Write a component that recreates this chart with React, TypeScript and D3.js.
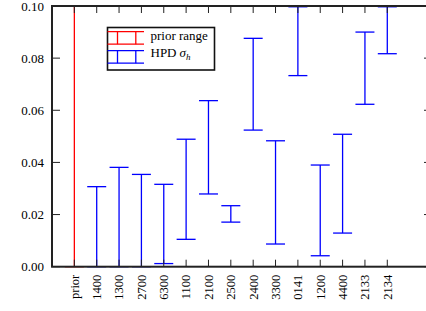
import React, { useRef, useEffect } from 'react'
import * as d3 from 'd3'

const categories = ['prior', '1400', '1300', '2700', '6300', '1100', '2100', '2500', '2400', '3300', '0141', '1200', '4400', '2133', '2134']
const lowerValues = [0, 0, 0, 0, 0.0012, 0.0105, 0.0279, 0.0171, 0.0524, 0.0087, 0.0733, 0.0042, 0.0129, 0.0623, 0.0817]
const upperValues = [0.1, 0.0307, 0.0381, 0.0354, 0.0316, 0.0489, 0.0637, 0.0234, 0.0876, 0.0483, 0.0997, 0.039, 0.0508, 0.09, 0.0997]
const yTicks = [0, 0.02, 0.04, 0.06, 0.08, 0.1]
const legendLabels = ['prior range', 'HPD']

const W = 426
const H = 311
const margin = { top: 6, right: -6, bottom: 44.3, left: 52 }
const font = "'Liberation Serif', 'DejaVu Serif', serif"

const App = () => {
  const svgRef = useRef<SVGSVGElement>(null)

  useEffect(() => {
    const svg = d3.select(svgRef.current)
    svg.selectAll('*').remove()

    const x = d3.scaleLinear()
      .domain([-1, categories.length + 1])
      .range([margin.left, W - margin.right])
    const y = d3.scaleLinear()
      .domain([0, 0.1])
      .range([H - margin.bottom, margin.top])

    const x0 = margin.left
    const x1 = W - margin.right
    const yb = H - margin.bottom
    const yt = margin.top
    const cap = 9.5

    // error bars
    const bars = svg.append('g')
      .selectAll('g')
      .data(categories)
      .join('g')
      .attr('stroke', (d, i) => (i === 0 ? '#ff0000' : '#0000ff'))
      .attr('stroke-width', 1.3)
    bars.append('line')
      .attr('x1', (d, i) => x(i)).attr('x2', (d, i) => x(i))
      .attr('y1', (d, i) => y(lowerValues[i])).attr('y2', (d, i) => y(upperValues[i]))
    bars.append('line')
      .attr('x1', (d, i) => x(i) - cap).attr('x2', (d, i) => x(i) + cap)
      .attr('y1', (d, i) => y(upperValues[i])).attr('y2', (d, i) => y(upperValues[i]))
    bars.append('line')
      .attr('x1', (d, i) => x(i) - cap).attr('x2', (d, i) => x(i) + cap)
      .attr('y1', (d, i) => y(lowerValues[i])).attr('y2', (d, i) => y(lowerValues[i]))

    // ticks
    const ticks = svg.append('g').attr('stroke', '#222').attr('stroke-width', 1)
    const idx = d3.range(categories.length)
    ticks.selectAll('.bt').data(idx).join('line')
      .attr('x1', (i) => x(i)).attr('x2', (i) => x(i))
      .attr('y1', yb).attr('y2', yb - 7)
    ticks.selectAll('.tt').data(idx).join('line')
      .attr('x1', (i) => x(i)).attr('x2', (i) => x(i))
      .attr('y1', yt).attr('y2', yt + 7)
    ticks.selectAll('.lt').data(yTicks).join('line')
      .attr('x1', x0).attr('x2', x0 + 8)
      .attr('y1', (v) => y(v)).attr('y2', (v) => y(v))
    ticks.selectAll('.rt').data(yTicks).join('line')
      .attr('x1', x1).attr('x2', x1 - 8)
      .attr('y1', (v) => y(v)).attr('y2', (v) => y(v))

    // frame
    svg.append('rect')
      .attr('x', x0).attr('y', yt)
      .attr('width', x1 - x0).attr('height', yb - yt)
      .attr('fill', 'none')
      .attr('stroke', '#222')
      .attr('stroke-width', 2)

    // y labels
    svg.append('g')
      .selectAll('text')
      .data(yTicks)
      .join('text')
      .attr('x', x0 - 8)
      .attr('y', (v) => y(v))
      .attr('dy', '0.35em')
      .attr('text-anchor', 'end')
      .attr('font-family', font)
      .attr('font-size', 13)
      .text((v) => d3.format('.2f')(v))

    // category labels
    svg.append('g')
      .selectAll('text')
      .data(categories)
      .join('text')
      .attr('transform', (d, i) => `translate(${x(i)},${yb + 8}) rotate(-90)`)
      .attr('dy', '0.35em')
      .attr('text-anchor', 'end')
      .attr('font-family', font)
      .attr('font-size', 12.5)
      .text((d) => d)

    // legend
    const lg = svg.append('g').attr('transform', 'translate(107.5,27.5)')
    lg.append('rect')
      .attr('width', 107).attr('height', 42.5)
      .attr('fill', '#fff')
      .attr('stroke', '#111')
      .attr('stroke-width', 1.6)
    const colors = ['#ff0000', '#0000ff']
    legendLabels.forEach((label, k) => {
      const top = 4.2 + k * 19
      const bot = top + 12.5
      const g = lg.append('g').attr('stroke', colors[k]).attr('stroke-width', 1.3)
      g.append('line').attr('x1', 0).attr('x2', 36.5).attr('y1', top).attr('y2', top)
      g.append('line').attr('x1', 0).attr('x2', 36.5).attr('y1', bot).attr('y2', bot)
      g.append('line').attr('x1', 10).attr('x2', 10).attr('y1', top).attr('y2', bot)
      g.append('line').attr('x1', 28.3).attr('x2', 28.3).attr('y1', top).attr('y2', bot)
      const t = lg.append('text')
        .attr('x', 43)
        .attr('y', 12.7 + k * 17)
        .attr('font-family', font)
        .attr('font-size', 13)
      t.append('tspan').text(label)
      if (k === 1) {
        t.append('tspan').attr('dx', 3).attr('font-style', 'italic').text('σ')
        t.append('tspan').attr('font-style', 'italic').attr('font-size', 9).attr('dy', 2.5).text('h')
      }
    })
  }, [])

  return (
    <svg
      ref={svgRef}
      width={W}
      height={H}
      style={{ position: 'absolute', left: 0, top: 0, background: '#fff' }}
    />
  )
}

export default App
